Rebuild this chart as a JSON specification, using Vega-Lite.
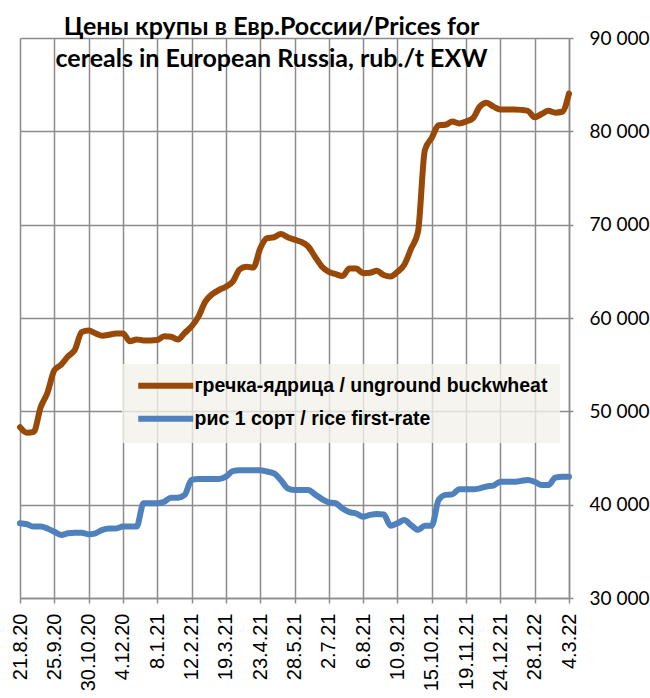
{
  "$schema": "https://vega.github.io/schema/vega-lite/v6.json",
  "width": 549,
  "height": 560,
  "autosize": {"type": "none"},
  "padding": {"left": 20, "top": 38, "right": 81, "bottom": 100},
  "background": "white",
  "title": {
    "text": ["Цены крупы в Евр.России/Prices for", "cereals in European Russia, rub./t EXW"],
    "font": "Lato",
    "fontSize": 25,
    "fontWeight": "bold",
    "color": "black",
    "anchor": "middle",
    "frame": "group",
    "baseline": "top",
    "orient": "top",
    "offset": 22,
    "dx": -23,
    "dy": 65,
    "lineHeight": 32
  },
  "data": {
    "format": {"parse": {"d": "date:'%Y-%m-%d'"}},
    "values": [
      {"d": "2020-08-21", "g": 48300, "r": 38000},
      {"d": "2020-08-28", "g": 47700, "r": 37900},
      {"d": "2020-09-04", "g": 47800, "r": 37650},
      {"d": "2020-09-11", "g": 50400, "r": 37650},
      {"d": "2020-09-18", "g": 52000, "r": 37450},
      {"d": "2020-09-25", "g": 54400, "r": 37100},
      {"d": "2020-10-02", "g": 55000, "r": 36750},
      {"d": "2020-10-09", "g": 55900, "r": 36930},
      {"d": "2020-10-16", "g": 56600, "r": 37000},
      {"d": "2020-10-23", "g": 58500, "r": 37000},
      {"d": "2020-10-30", "g": 58650, "r": 36820},
      {"d": "2020-11-06", "g": 58350, "r": 36930},
      {"d": "2020-11-13", "g": 58100, "r": 37300},
      {"d": "2020-11-20", "g": 58200, "r": 37450},
      {"d": "2020-11-27", "g": 58350, "r": 37450},
      {"d": "2020-12-04", "g": 58350, "r": 37650},
      {"d": "2020-12-11", "g": 57500, "r": 37650},
      {"d": "2020-12-18", "g": 57700, "r": 37650},
      {"d": "2020-12-25", "g": 57600, "r": 40150},
      {"d": "2021-01-01", "g": 57600, "r": 40150},
      {"d": "2021-01-08", "g": 57650, "r": 40150},
      {"d": "2021-01-15", "g": 58050, "r": 40320},
      {"d": "2021-01-22", "g": 58000, "r": 40750},
      {"d": "2021-01-29", "g": 57700, "r": 40750},
      {"d": "2021-02-05", "g": 58400, "r": 41050},
      {"d": "2021-02-12", "g": 59100, "r": 42650},
      {"d": "2021-02-19", "g": 60150, "r": 42750},
      {"d": "2021-02-26", "g": 61750, "r": 42750},
      {"d": "2021-03-05", "g": 62550, "r": 42750},
      {"d": "2021-03-12", "g": 63000, "r": 42750},
      {"d": "2021-03-19", "g": 63350, "r": 43000},
      {"d": "2021-03-26", "g": 63900, "r": 43600},
      {"d": "2021-04-02", "g": 65200, "r": 43700},
      {"d": "2021-04-09", "g": 65500, "r": 43700},
      {"d": "2021-04-16", "g": 65400, "r": 43700},
      {"d": "2021-04-23", "g": 67450, "r": 43700},
      {"d": "2021-04-30", "g": 68550, "r": 43550},
      {"d": "2021-05-07", "g": 68650, "r": 43350},
      {"d": "2021-05-14", "g": 69000, "r": 42650},
      {"d": "2021-05-21", "g": 68650, "r": 41750},
      {"d": "2021-05-28", "g": 68400, "r": 41570},
      {"d": "2021-06-04", "g": 68150, "r": 41570},
      {"d": "2021-06-11", "g": 67650, "r": 41570},
      {"d": "2021-06-18", "g": 66550, "r": 41100},
      {"d": "2021-06-25", "g": 65500, "r": 40600},
      {"d": "2021-07-02", "g": 64950, "r": 40250},
      {"d": "2021-07-09", "g": 64700, "r": 40150},
      {"d": "2021-07-16", "g": 64500, "r": 39600},
      {"d": "2021-07-23", "g": 65300, "r": 39200},
      {"d": "2021-07-30", "g": 65300, "r": 39050},
      {"d": "2021-08-06", "g": 64800, "r": 38700},
      {"d": "2021-08-13", "g": 64850, "r": 38900},
      {"d": "2021-08-20", "g": 65050, "r": 39000},
      {"d": "2021-08-27", "g": 64600, "r": 38950},
      {"d": "2021-09-03", "g": 64450, "r": 37750},
      {"d": "2021-09-10", "g": 64950, "r": 38000},
      {"d": "2021-09-17", "g": 65700, "r": 38350},
      {"d": "2021-09-24", "g": 67450, "r": 37800},
      {"d": "2021-10-01", "g": 69250, "r": 37300},
      {"d": "2021-10-08", "g": 78000, "r": 37750},
      {"d": "2021-10-15", "g": 79300, "r": 37750},
      {"d": "2021-10-22", "g": 80650, "r": 40500},
      {"d": "2021-10-29", "g": 80700, "r": 41050},
      {"d": "2021-11-05", "g": 81050, "r": 41100},
      {"d": "2021-11-12", "g": 80850, "r": 41650},
      {"d": "2021-11-19", "g": 81050, "r": 41650},
      {"d": "2021-11-26", "g": 81400, "r": 41650},
      {"d": "2021-12-03", "g": 82650, "r": 41750},
      {"d": "2021-12-10", "g": 83050, "r": 41950},
      {"d": "2021-12-17", "g": 82650, "r": 42050},
      {"d": "2021-12-24", "g": 82350, "r": 42450},
      {"d": "2021-12-31", "g": 82350, "r": 42450},
      {"d": "2022-01-07", "g": 82350, "r": 42450},
      {"d": "2022-01-14", "g": 82300, "r": 42550},
      {"d": "2022-01-21", "g": 82200, "r": 42650},
      {"d": "2022-01-28", "g": 81500, "r": 42450},
      {"d": "2022-02-04", "g": 81850, "r": 42100},
      {"d": "2022-02-11", "g": 82200, "r": 42100},
      {"d": "2022-02-18", "g": 82000, "r": 42900},
      {"d": "2022-02-25", "g": 82100, "r": 43000},
      {"d": "2022-03-04", "g": 84050, "r": 43000}
    ]
  },
  "transform": [{"fold": ["g", "r"], "as": ["k", "v"]}],
  "mark": {"type": "line", "strokeWidth": 6, "interpolate": "monotone", "strokeCap": "round", "strokeJoin": "round"},
  "encoding": {
    "x": {
      "field": "d",
      "type": "temporal",
      "scale": {"domain": [{"year": 2020, "month": 8, "date": 21}, {"year": 2022, "month": 3, "date": 4}], "nice": false, "padding": 0},
      "axis": {
        "title": null,
        "values": [
          {"year": 2020, "month": 8, "date": 21},
          {"year": 2020, "month": 9, "date": 25},
          {"year": 2020, "month": 10, "date": 30},
          {"year": 2020, "month": 12, "date": 4},
          {"year": 2021, "month": 1, "date": 8},
          {"year": 2021, "month": 2, "date": 12},
          {"year": 2021, "month": 3, "date": 19},
          {"year": 2021, "month": 4, "date": 23},
          {"year": 2021, "month": 5, "date": 28},
          {"year": 2021, "month": 7, "date": 2},
          {"year": 2021, "month": 8, "date": 6},
          {"year": 2021, "month": 9, "date": 10},
          {"year": 2021, "month": 10, "date": 15},
          {"year": 2021, "month": 11, "date": 19},
          {"year": 2021, "month": 12, "date": 24},
          {"year": 2022, "month": 1, "date": 28},
          {"year": 2022, "month": 3, "date": 4}
        ],
        "format": "%-d.%-m.%y",
        "labelAngle": -90,
        "labelAlign": "right",
        "labelBaseline": "middle",
        "labelFont": "Liberation Sans",
        "labelFontSize": 20,
        "labelColor": "black",
        "labelPadding": 10,
        "labelOverlap": false,
        "labelFlush": false,
        "tickSize": 5,
        "tickColor": "#8c8c8c",
        "tickWidth": 1.5,
        "grid": true,
        "gridColor": "#8c8c8c",
        "gridWidth": 1.5,
        "domainColor": "#8c8c8c",
        "domainWidth": 1.5
      }
    },
    "y": {
      "field": "v",
      "type": "quantitative",
      "scale": {"domain": [30000, 90000], "nice": false, "zero": false},
      "axis": {
        "orient": "right",
        "title": null,
        "values": [30000, 40000, 50000, 60000, 70000, 80000, 90000],
        "labelExpr": "replace(format(datum.value, ','), ',', ' ')",
        "labelFont": "Lato",
        "labelFontSize": 19,
        "labelColor": "black",
        "labelPadding": 16,
        "tickSize": 4,
        "tickColor": "#8c8c8c",
        "tickWidth": 1.5,
        "grid": true,
        "gridColor": "#8c8c8c",
        "gridWidth": 1.5,
        "domainColor": "#8c8c8c",
        "domainWidth": 1.5
      }
    },
    "color": {
      "field": "k",
      "type": "nominal",
      "scale": {"domain": ["g", "r"], "range": ["#984807", "#4f81bd"]},
      "legend": {
        "title": null,
        "orient": "none",
        "legendX": 102,
        "legendY": 326,
        "fillColor": "rgba(242,241,234,0.8)",
        "padding": 12,
        "symbolType": "M-1,0H9",
        "symbolSize": 121,
        "symbolStrokeWidth": 6,
        "labelOffset": 41,
        "rowPadding": 8,
        "labelFont": "Liberation Sans",
        "labelFontSize": 19.5,
        "labelFontWeight": "bold",
        "labelColor": "black",
        "labelLimit": 500,
        "labelExpr": "datum.label == 'g' ? 'гречка-ядрица / unground buckwheat' : 'рис 1 сорт / rice first-rate'"
      }
    }
  },
  "config": {"view": {"stroke": null}}
}
